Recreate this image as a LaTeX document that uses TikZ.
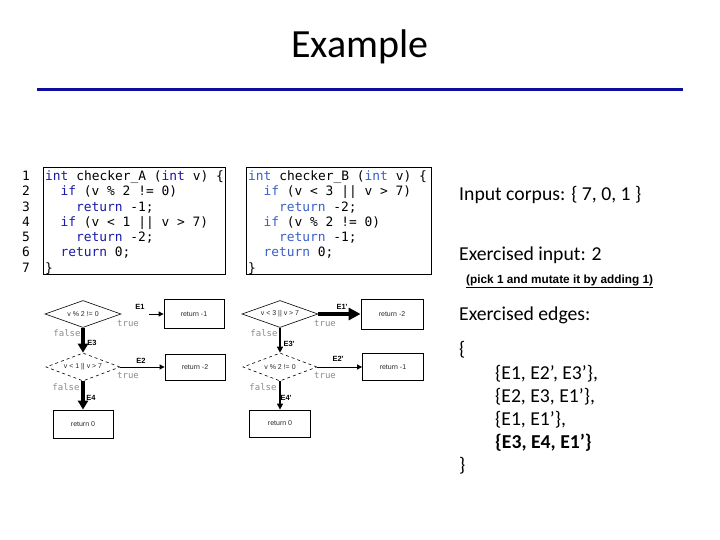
\documentclass[tikz,border=0pt]{standalone}
\usepackage{fontspec}
\setmainfont{Carlito}
\newfontfamily\codefont{DejaVu Sans Mono}
\newfontfamily\flowfont{Liberation Sans}
\usetikzlibrary{shapes.geometric,arrows.meta}
\definecolor{rulecol}{RGB}{14,14,158}
\definecolor{keya}{RGB}{25,25,170}
\definecolor{keyb}{RGB}{60,95,200}
\newcommand{\kwa}[1]{\textcolor{keya}{#1}}
\newcommand{\kwb}[1]{\textcolor{keyb}{#1}}

\begin{document}
\begin{tikzpicture}[x=1pt,y=-1pt,
  code/.style={font=\codefont\fontsize{12.9}{14}\selectfont,anchor=base west,inner sep=0pt},
  cond/.style={diamond,draw,line width=0.6pt,inner sep=0pt,aspect=2.9,minimum width=76pt,minimum height=27pt,
    font=\flowfont\fontsize{7}{8}\selectfont,text=black!85},
  ret/.style={draw,line width=0.8pt,inner sep=0pt,minimum width=60pt,minimum height=28pt,
    font=\flowfont\fontsize{7}{8}\selectfont,text=black!85},
  elabel/.style={font=\flowfont\bfseries\fontsize{7.5}{9}\selectfont,inner sep=0pt},
  tf/.style={font=\codefont\fontsize{9}{10}\selectfont,text=black!45,inner sep=0pt},
  fatarrow/.style={line width=3.5pt,-{Triangle[length=9pt,width=10pt]}},
  medarrow/.style={line width=1.3pt,-{Triangle[length=6pt,width=6pt]}},
  slimarrow/.style={line width=0.8pt,-{Triangle[length=5pt,width=5pt]}},
  txt/.style={anchor=west,inner sep=0pt,font=\fontsize{19.7}{23}\selectfont}]
\useasboundingbox (0,0) rectangle (720,540);
% title
\node[font=\fontsize{40}{48}\selectfont] (title) at (360,47) {Example};
\draw[rulecol,line width=3pt] (37,90) -- (683,90);

% source code of the two checkers
\foreach \i in {1,...,7}
  \node[code,anchor=base] (n\i) at (26,{180.6+15.25*(\i-1)}) {\i};
\draw[line width=0.8pt] (43,167) rectangle (225,274);
\node[code] (la1) at (45,180.6) {\kwa{int} checker\_A (\kwa{int} v) \{};
\node[code] (la2) at (60.4,195.85) {\kwa{if} (v \% 2 != 0)};
\node[code] (la3) at (75.8,211.1) {\kwa{return} -1;};
\node[code] (la4) at (60.4,226.35) {\kwa{if} (v < 1 || v > 7)};
\node[code] (la5) at (75.8,241.6) {\kwa{return} -2;};
\node[code] (la6) at (60.4,256.85) {\kwa{return} 0;};
\node[code] (la7) at (45,272.1) {\}};
\draw[line width=0.8pt] (246,167) rectangle (431,274);
\node[code] (lb1) at (248,180.6) {\kwb{int} checker\_B (\kwb{int} v) \{};
\node[code] (lb2) at (263.4,195.85) {\kwb{if} (v < 3 || v > 7)};
\node[code] (lb3) at (278.8,211.1) {\kwb{return} -2;};
\node[code] (lb4) at (263.4,226.35) {\kwb{if} (v \% 2 != 0)};
\node[code] (lb5) at (278.8,241.6) {\kwb{return} -1;};
\node[code] (lb6) at (263.4,256.85) {\kwb{return} 0;};
\node[code] (lb7) at (248,272.1) {\}};

% control flow of checker_A
\node[cond] (a1) at (83,314) {v \% 2 != 0};
\node[cond,dashed,minimum width=74pt,minimum height=28pt] (a2) at (83,367) {v < 1 || v > 7};
\node[ret,minimum height=29pt] (ar1) at (194,314) {return -1};
\node[ret,minimum height=26pt] (ar2) at (195,367) {return -2};
\node[ret] (ar0) at (83,424) {return 0};
\draw[slimarrow,shorten <=28pt] (a1) -- (ar1);
\draw[fatarrow] (a1) -- (a2);
\draw[slimarrow] (a2) -- (ar2);
\draw[fatarrow] (a2) -- (ar0);
\node[elabel] (e1) at (140,307) {E1};
\node[tf] (t1) at (128,323) {true};
\node[tf] (f1) at (67,333) {false};
\node[elabel] (e3) at (92,343) {E3};
\node[elabel] (e2) at (141,361) {E2};
\node[tf] (t2) at (128,375) {true};
\node[tf] (f2) at (66,387) {false};
\node[elabel] (e4) at (91,398) {E4};

% control flow of checker_B
\node[cond] (b1) at (280,314) {v < 3 || v > 7};
\node[cond,dashed,minimum width=74pt,minimum height=28pt] (b2) at (280,367) {v \% 2 != 0};
\node[ret,minimum width=62pt,minimum height=30pt] (br2) at (392,314) {return -2};
\node[ret,minimum width=61pt,minimum height=27pt] (br1) at (393,367) {return -1};
\node[ret,minimum width=61pt,minimum height=27pt] (br0) at (280,423.5) {return 0};
\draw[line width=4pt,-{Triangle[length=12pt,width=12pt]}] (b1) -- (br2);
\draw[medarrow] (b1) -- (b2);
\draw[slimarrow] (b2) -- (br1);
\draw[medarrow,line width=1.1pt] (b2) -- (br0);
\node[elabel] (e1b) at (342,307) {E1'};
\node[tf] (t1b) at (325,323) {true};
\node[tf] (f1b) at (264,333) {false};
\node[elabel] (e3b) at (289,344) {E3'};
\node[elabel] (e2b) at (338,359) {E2'};
\node[tf] (t2b) at (325,375) {true};
\node[tf] (f2b) at (263,387) {false};
\node[elabel] (e4b) at (286,398) {E4'};

% fuzzing run
\node[txt] (corpus) at (459,195) {Input corpus: \{ 7, 0, 1 \}};
\node[txt] (exin) at (459,255) {Exercised input: 2};
\node[anchor=west,inner sep=0pt,font=\flowfont\bfseries\fontsize{11.8}{13}\selectfont] (pick) at (466,281)
  {\underline{(pick 1 and mutate it by adding 1)}};
\node[txt] (exed) at (459,315) {Exercised edges:};
\node[txt] (open) at (459,350) {\{};
\node[txt] (s1) at (495,374) {\{E1, E2’, E3’\},};
\node[txt] (s2) at (495,397) {\{E2, E3, E1’\},};
\node[txt] (s3) at (495,420) {\{E1, E1’\},};
\node[txt,font=\bfseries\fontsize{19.7}{23}\selectfont] (s4) at (495,443) {\{E3, E4, E1’\}};
\node[txt] (close) at (459,466) {\}};
\end{tikzpicture}
\end{document}
